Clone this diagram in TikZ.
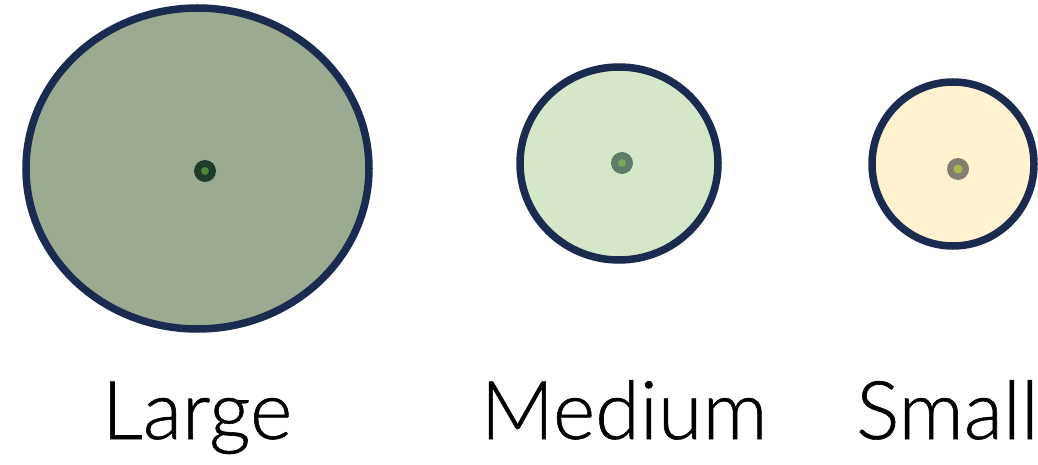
\documentclass[tikz,border=0pt]{standalone}
\usepackage{fontspec}
\usetikzlibrary{shapes.geometric}
\setmainfont{Lato Light}[FakeBold=0.7]
\definecolor{rim}{HTML}{1B2B50}
\definecolor{lfill}{HTML}{9BAB91}
\definecolor{mfill}{HTML}{D4E7C8}
\definecolor{sfill}{HTML}{FEF2CF}
\definecolor{ldot}{HTML}{1F3B2B}
\definecolor{ldotin}{HTML}{4B8A3A}
\definecolor{mdot}{HTML}{5F7C6A}
\definecolor{mdotin}{HTML}{78A65A}
\definecolor{sdot}{HTML}{827F6E}
\definecolor{sdotin}{HTML}{A9B84B}
\tikzset{
  blob/.style={draw=rim, line width=7.5pt, inner sep=0pt},
  lbl/.style={font=\fontsize{81}{88}\selectfont, anchor=base, inner sep=0pt},
}
\begin{document}
\begin{tikzpicture}[x=1pt,y=-1pt]
\useasboundingbox (0,0) rectangle (1038,465);
\clip (0,0) rectangle (1038,465);
\fill[white] (0,0) rectangle (1038,465);
\node[blob, fill=lfill, ellipse, minimum width=343pt, minimum height=321pt] (large) at (197.5,168.5) {};
\node[blob, fill=mfill, ellipse, minimum width=198pt, minimum height=193pt] (medium) at (619,163.5) {};
\node[blob, fill=sfill, ellipse, minimum width=162pt, minimum height=164pt] (small) at (953,164) {};
\fill[ldot] (205,171) circle (11);
\fill[ldotin] (205,171) circle (4);
\fill[mdot] (622,163) circle (11);
\fill[mdotin] (622,163) circle (4);
\fill[sdot] (958,169) circle (11);
\fill[sdotin] (958,169) circle (4.5);
\node[lbl] (tl) at (197,439) {Large};
\node[lbl] (tm) at (624,439) {Medium};
\node[lbl, anchor=base west] (ts) at (856,439) {Small};
\end{tikzpicture}
\end{document}
